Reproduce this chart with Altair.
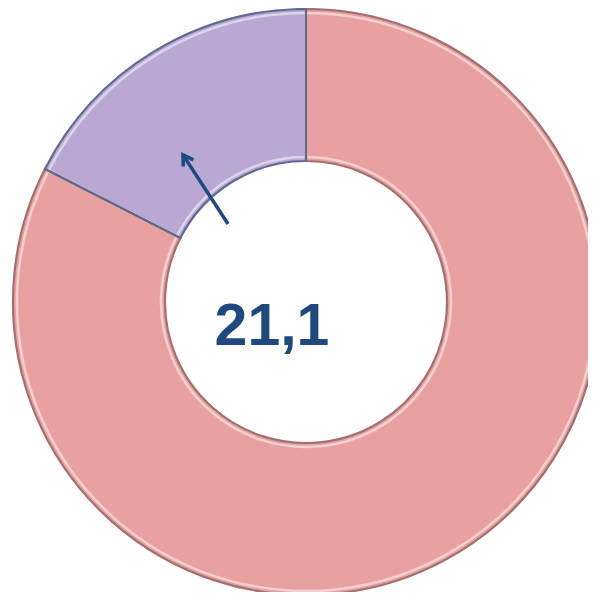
import altair as alt
import pandas as pd

# data
categories = ["Прочее", "Доля"]
values = [82.5, 17.5]
orders = [1, 2]
fills = ["#E8A1A0", "#B9A8D3"]
strokes = ["#A27070", "#5F6A8E"]

center_label = "21,1"

# annotation arrow in normalised donut coordinates (centre = 0,0, outer radius = 1)
arrow_x = [-0.266, -0.42]
arrow_y = [0.266, 0.502]

df = pd.DataFrame({"cat": categories, "val": values, "ord": orders,
                   "cx": [0, 0], "cy": [0, 0]})
arrow_df = pd.DataFrame({"x": arrow_x, "y": arrow_y, "i": [0, 1]})
head_df = pd.DataFrame({"x": [arrow_x[1]], "y": [arrow_y[1]]})
text_df = pd.DataFrame({"x": [-0.116], "y": [-0.147], "t": [center_label]})

W, H = 580, 584
cx, cy, R = 298, 294, 293
RI = 141
xs = alt.Scale(domain=[-1, 1], range=[cx - R, cx + R])
ys = alt.Scale(domain=[-1, 1], range=[cy + R, cy - R])

base = alt.Chart(df).encode(
    x=alt.X("cx:Q", scale=xs, axis=None),
    y=alt.Y("cy:Q", scale=ys, axis=None),
    theta=alt.Theta("val:Q", stack=True),
    order=alt.Order("ord:Q"),
)

fill = base.mark_arc(outerRadius=R, innerRadius=RI, strokeWidth=0).encode(
    color=alt.Color("cat:N", scale=alt.Scale(domain=categories, range=fills), legend=None),
)

highlight = base.mark_arc(outerRadius=R - 4, innerRadius=RI + 4, strokeWidth=2.5,
                          fillOpacity=0, strokeOpacity=0.5).encode(
    stroke=alt.value("#FFFFFF"),
)

outline = base.mark_arc(outerRadius=R, innerRadius=RI, strokeWidth=2.2,
                        fillOpacity=0).encode(
    stroke=alt.Stroke("cat:N", scale=alt.Scale(domain=categories, range=strokes), legend=None),
)

arrow = alt.Chart(arrow_df).mark_line(color="#1F497D", strokeWidth=3.5).encode(
    x=alt.X("x:Q", scale=xs, axis=None),
    y=alt.Y("y:Q", scale=ys, axis=None),
    order="i:Q",
)

head = alt.Chart(head_df).mark_point(
    shape="M -0.55 0.9 L 0 0 L 0.55 0.9", filled=False, color="#1F497D",
    strokeWidth=3.5, size=480, angle=327, opacity=1,
).encode(
    x=alt.X("x:Q", scale=xs, axis=None),
    y=alt.Y("y:Q", scale=ys, axis=None),
)

label = alt.Chart(text_df).mark_text(
    font="Liberation Sans", fontSize=59, fontWeight="bold", color="#1F497D",
    align="center", baseline="alphabetic",
).encode(
    x=alt.X("x:Q", scale=xs, axis=None),
    y=alt.Y("y:Q", scale=ys, axis=None),
    text="t:N",
)

chart = alt.layer(fill, highlight, outline, arrow, head, label).properties(
    width=W, height=H, padding=0, autosize="none"
).configure_view(stroke=None)

chart.save("out.html", embed_options={"renderer": "svg", "actions": False})
